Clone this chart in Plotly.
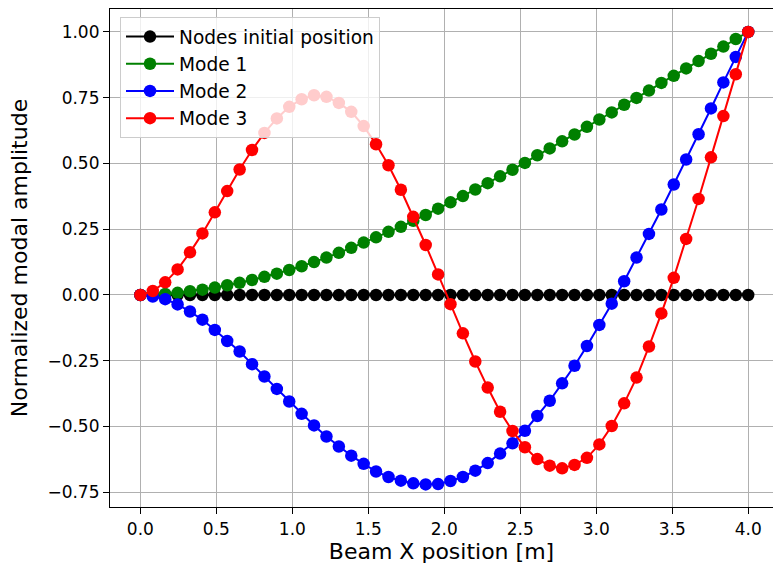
import plotly.graph_objects as go

# Node positions along the beam [m]
x_nodes = [0.0, 0.0816, 0.1633, 0.2449, 0.3265, 0.4082, 0.4898, 0.5714, 0.6531, 0.7347,
           0.8163, 0.8980, 0.9796, 1.0612, 1.1429, 1.2245, 1.3061, 1.3878, 1.4694, 1.5510,
           1.6327, 1.7143, 1.7959, 1.8776, 1.9592, 2.0408, 2.1224, 2.2041, 2.2857, 2.3673,
           2.4490, 2.5306, 2.6122, 2.6939, 2.7755, 2.8571, 2.9388, 3.0204, 3.1020, 3.1837,
           3.2653, 3.3469, 3.4286, 3.5102, 3.5918, 3.6735, 3.7551, 3.8367, 3.9184, 4.0]

nodes_initial = [0.0] * 50

mode1 = [0.000, 0.001, 0.004, 0.008, 0.014, 0.020, 0.028, 0.037, 0.046, 0.057,
         0.069, 0.081, 0.095, 0.109, 0.125, 0.142, 0.160, 0.179, 0.199, 0.219,
         0.240, 0.259, 0.282, 0.304, 0.328, 0.352, 0.376, 0.401, 0.425, 0.451,
         0.476, 0.502, 0.531, 0.557, 0.584, 0.610, 0.639, 0.667, 0.694, 0.723,
         0.749, 0.777, 0.806, 0.833, 0.861, 0.889, 0.917, 0.944, 0.973, 1.000]

mode2 = [0.000, -0.006, -0.016, -0.036, -0.063, -0.094, -0.133, -0.175, -0.215, -0.263,
         -0.310, -0.357, -0.405, -0.452, -0.496, -0.538, -0.576, -0.611, -0.642, -0.671,
         -0.692, -0.706, -0.716, -0.720, -0.719, -0.707, -0.692, -0.668, -0.639, -0.603,
         -0.564, -0.516, -0.460, -0.402, -0.336, -0.269, -0.194, -0.114, -0.033, 0.052,
         0.142, 0.232, 0.325, 0.420, 0.515, 0.611, 0.709, 0.808, 0.905, 1.000]

mode3 = [0.000, 0.015, 0.048, 0.097, 0.162, 0.234, 0.314, 0.395, 0.477, 0.551,
         0.616, 0.671, 0.715, 0.744, 0.759, 0.753, 0.730, 0.696, 0.642, 0.573,
         0.493, 0.400, 0.297, 0.190, 0.078, -0.035, -0.146, -0.253, -0.352, -0.444,
         -0.517, -0.579, -0.624, -0.649, -0.659, -0.646, -0.619, -0.568, -0.498, -0.412,
         -0.314, -0.196, -0.070, 0.065, 0.213, 0.365, 0.523, 0.680, 0.839, 1.000]

series_names = ["Nodes initial position", "Mode 1", "Mode 2", "Mode 3"]
series_values = [nodes_initial, mode1, mode2, mode3]
series_colors = ["#000000", "#008000", "#0000ff", "#ff0000"]

FONT = "DejaVu Sans"

fig = go.Figure()
for i, (name, vals, col) in enumerate(zip(series_names, series_values, series_colors)):
    fig.add_trace(go.Scatter(
        x=x_nodes, y=vals, name=name, mode="lines+markers",
        line=dict(color=col, width=2),
        marker=dict(color=col, size=12.5),
        legendgroup="g%d" % i,
    ))

fig.update_layout(
    width=773, height=569,
    margin=dict(l=110, r=0, t=9, b=62, autoexpand=False),
    paper_bgcolor="white", plot_bgcolor="white",
    font=dict(family=FONT, color="black"),
    showlegend=True,
    legend=dict(
        x=(120 - 110) / 663, y=1 - (17 - 9) / 498, xanchor="left", yanchor="top",
        bgcolor="rgba(255,255,255,0.8)", bordercolor="#cccccc", borderwidth=1,
        font=dict(family=FONT, size=18.6, color="black"),
        traceorder="grouped", tracegroupgap=0, itemwidth=48,
    ),
    xaxis=dict(
        range=[-0.2, -0.2 + 663 / 151.95], automargin=False,
        tick0=0, dtick=0.5, tickformat=".1f",
        showgrid=True, gridcolor="#b0b0b0", gridwidth=1,
        zeroline=False,
        showline=True, linecolor="black", linewidth=1.2, mirror=True,
        ticks="outside", ticklen=6, tickwidth=1.2, tickcolor="black",
        tickfont=dict(family=FONT, size=17, color="black"),
        title=dict(text="Beam X position [m]", font=dict(family=FONT, size=22, color="black"), standoff=6),
    ),
    yaxis=dict(
        range=[-0.806, 1.087], automargin=False,
        tick0=0, dtick=0.25, tickformat=".2f",
        showgrid=True, gridcolor="#b0b0b0", gridwidth=1,
        zeroline=False,
        showline=True, linecolor="black", linewidth=1.2, mirror=False,
        ticks="outside", ticklen=6, tickwidth=1.2, tickcolor="black",
        tickfont=dict(family=FONT, size=17, color="black"),
        title=dict(text="Normalized modal amplitude", font=dict(family=FONT, size=22, color="black"), standoff=13),
    ),
)

# Remove the page's default body margin so the figure fills the window exactly.
fig.write_html(
    "out.html",
    config={"displayModeBar": False},
    post_script="document.body.style.margin='0';document.body.style.overflow='hidden';",
)
